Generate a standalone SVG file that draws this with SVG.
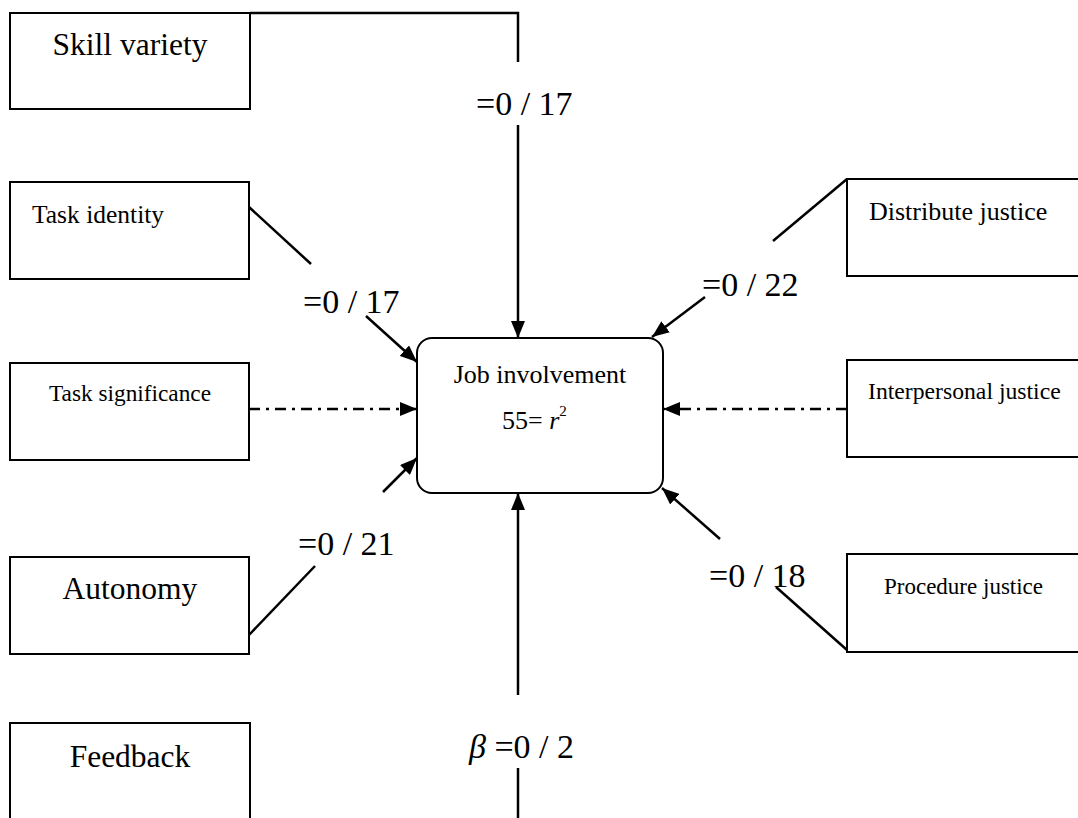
<svg xmlns="http://www.w3.org/2000/svg" width="1078" height="818" viewBox="0 0 1078 818">
<style>
.box{fill:#fff;stroke:#000;stroke-width:2}
.t{font-family:"Liberation Serif","Times New Roman",serif;fill:#000}
.lbl{font-family:"Liberation Serif","Times New Roman",serif;font-size:34px;fill:#000}
.ln{stroke:#000;stroke-width:2.5;fill:none}
.dd{stroke:#000;stroke-width:2.5;fill:none;stroke-dasharray:11 6 3 6}
</style>
<defs>
<marker id="ah" markerUnits="userSpaceOnUse" markerWidth="18" markerHeight="14" refX="17" refY="7" orient="auto" viewBox="0 0 18 14">
<path d="M0,0 L17,7 L0,14 z" fill="#000"/>
</marker>
</defs>
<rect width="1078" height="818" fill="#fff"/>

<g id="connectors">
<polyline class="ln" points="250,13 518,13 518,62"/>
<line class="ln" x1="518" y1="125" x2="518" y2="338" marker-end="url(#ah)"/>
<line class="ln" x1="249" y1="207" x2="311" y2="264"/>
<line class="ln" x1="366" y1="316" x2="417" y2="362" marker-end="url(#ah)"/>
<line class="dd" x1="249" y1="409" x2="417" y2="409" marker-end="url(#ah)"/>
<line class="ln" x1="249" y1="635" x2="315" y2="566"/>
<line class="ln" x1="383" y1="492" x2="417" y2="458" marker-end="url(#ah)"/>
<line class="ln" x1="518" y1="818" x2="518" y2="768"/>
<line class="ln" x1="518" y1="695" x2="518" y2="493" marker-end="url(#ah)"/>
<line class="ln" x1="847" y1="179" x2="773" y2="241"/>
<line class="ln" x1="705" y1="297" x2="652" y2="337" marker-end="url(#ah)"/>
<line class="dd" x1="847" y1="409" x2="663" y2="409" marker-end="url(#ah)"/>
<line class="ln" x1="847" y1="650" x2="776" y2="587"/>
<line class="ln" x1="720" y1="539" x2="662" y2="488" marker-end="url(#ah)"/>
<text class="lbl" x="476" y="115">=0 / 17</text>
<text class="lbl" x="303" y="313">=0 / 17</text>
<text class="lbl" x="298" y="555">=0 / 21</text>
<text class="lbl" x="469" y="758"><tspan font-style="italic">β</tspan> =0 / 2</text>
<text class="lbl" x="702" y="296">=0 / 22</text>
<text class="lbl" x="709" y="587">=0 / 18</text>
</g>

<g id="skill-variety">
<rect class="box" x="10" y="13" width="240" height="96"/>
<text class="t" x="130" y="55" font-size="31.5" text-anchor="middle">Skill variety</text>
</g>
<g id="task-identity">
<rect class="box" x="10" y="182" width="239" height="97"/>
<text class="t" x="32" y="223" font-size="25.5">Task identity</text>
</g>
<g id="task-significance">
<rect class="box" x="10" y="363" width="239" height="97"/>
<text class="t" x="130" y="401" font-size="23.3" text-anchor="middle">Task significance</text>
</g>
<g id="autonomy">
<rect class="box" x="10" y="557" width="239" height="97"/>
<text class="t" x="130" y="599" font-size="31.5" text-anchor="middle">Autonomy</text>
</g>
<g id="feedback">
<rect class="box" x="10" y="723" width="240" height="120"/>
<text class="t" x="130" y="767" font-size="31.5" text-anchor="middle">Feedback</text>
</g>

<g id="job-involvement">
<rect class="box" x="417" y="338" width="246" height="155" rx="15" ry="15"/>
<text class="t" x="540" y="383" font-size="26" text-anchor="middle">Job involvement</text>
<text class="t" x="502" y="429" font-size="26">55= <tspan font-style="italic">r</tspan><tspan font-size="15" dy="-13">2</tspan></text>
</g>

<g id="distribute-justice">
<rect class="box" x="847" y="179" width="260" height="97"/>
<text class="t" x="869" y="220" font-size="26">Distribute justice</text>
</g>
<g id="interpersonal-justice">
<rect class="box" x="847" y="360" width="260" height="97"/>
<text class="t" x="868" y="399" font-size="23.7">Interpersonal justice</text>
</g>
<g id="procedure-justice">
<rect class="box" x="847" y="554" width="260" height="98"/>
<text class="t" x="884" y="594" font-size="23">Procedure justice</text>
</g>
</svg>
